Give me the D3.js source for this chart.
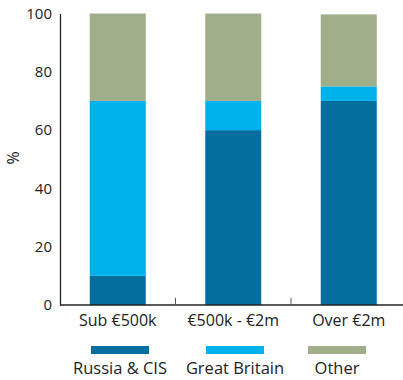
<!DOCTYPE html>
<html><head><meta charset="utf-8">
<script src="https://cdn.jsdelivr.net/npm/d3@7"></script>
<style>body{margin:0;background:#fff}svg{display:block}text{font-family:"Open Sans",sans-serif;fill:#222}</style>
</head><body>
<svg id="c" width="403" height="380"></svg>
<script>
const categories = ["Sub €500k", "€500k - €2m", "Over €2m"];
const seriesNames = ["Russia & CIS", "Great Britain", "Other"];
const russia = [10, 60, 70];
const britain = [60, 10, 5];
const other = [30, 30, 24.7];
const yTicks = [0, 20, 40, 60, 80, 100];
const colors = ["#046e9e", "#00b2ec", "#a0ae8a"];

const svg = d3.select("#c");
const x = d3.scaleBand().domain(categories).range([60, 406.5]).paddingInner(0.515).paddingOuter(0.2575);
const y = d3.scaleLinear().domain([0, 100]).range([305, 13.5]);

const rows = categories.map((c, i) => ({cat: c, s0: russia[i], s1: britain[i], s2: other[i]}));
const stack = d3.stack().keys(["s0", "s1", "s2"])(rows);

stack.forEach((layer, k) => {
  svg.append("g").selectAll("rect").data(layer).join("rect")
    .attr("x", d => x(d.data.cat))
    .attr("width", x.bandwidth())
    .attr("y", d => y(d[1]))
    .attr("height", d => y(d[0]) - y(d[1]))
    .attr("fill", colors[k]);
});

// y axis
const ya = svg.append("g").attr("transform", "translate(60,0)")
  .call(d3.axisLeft(y).tickValues(yTicks).tickSize(0).tickPadding(8));
ya.select(".domain").attr("stroke", "#222").attr("stroke-width", 1.3);
ya.selectAll("text").style("font-size", "15px").attr("fill", "#222").attr("font-family", '"Open Sans",sans-serif');

// x axis
const xa = svg.append("g").attr("transform", "translate(0,305)")
  .call(d3.axisBottom(x).tickSize(0).tickPadding(10));
xa.select(".domain").attr("d", "M60,0H403").attr("stroke", "#222").attr("stroke-width", 1.3);
xa.selectAll("text").style("font-size", "16px").attr("fill", "#222").attr("font-family", '"Open Sans",sans-serif');
// boundary ticks
const bounds = categories.slice(1).map(c => x(c) - x.step() * x.paddingInner() / 2);
svg.append("g").selectAll("line").data(bounds).join("line")
  .attr("x1", d => d).attr("x2", d => d).attr("y1", 298).attr("y2", 305)
  .attr("stroke", "#555").attr("stroke-width", 1);

svg.append("text").attr("transform", "translate(19,158) rotate(-90)")
  .attr("text-anchor", "middle").style("font-size", "16px").text("%");

// legend
const legendCenters = [120, 235, 337];
const lg = svg.append("g");
seriesNames.forEach((n, i) => {
  const cx = legendCenters[i];
  lg.append("rect").attr("x", cx - 29).attr("y", 346).attr("width", 58).attr("height", 8).attr("fill", colors[i]);
  lg.append("text").attr("x", cx).attr("y", 374).attr("text-anchor", "middle").style("font-size", "16.5px").text(n);
});
</script>
</body></html>
